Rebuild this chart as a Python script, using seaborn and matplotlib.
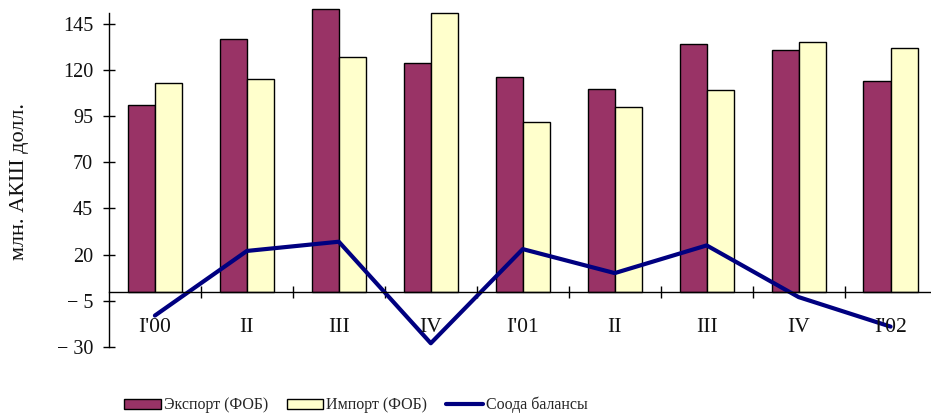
import numpy as np
import pandas as pd
import matplotlib
matplotlib.use("Agg")
import matplotlib.pyplot as plt
import matplotlib.transforms as mtransforms
from matplotlib.patches import Patch
from matplotlib.lines import Line2D
import seaborn as sns

# Quarterly trade data, million US dollars
periods = ["I'00", "II", "III", "IV", "I'01", "II", "III", "IV", "I'02"]
export_fob = [101, 137, 153, 124, 116, 110, 134, 131, 114]
import_fob = [113, 115, 127, 151, 92, 100, 109, 135, 132]
trade_balance = [-13, 22, 27, -28, 23, 10, 25, -3, -19]

y_ticks = [-30, -5, 20, 45, 70, 95, 120, 145]
y_tick_labels = ["\u2212 30", "\u2212 5", "20", "45", "70", "95", "120", "145"]

export_name = "Экспорт (ФОБ)"
import_name = "Импорт (ФОБ)"
balance_name = "Соода балансы"

export_color = "#993366"
import_color = "#FFFFCC"
balance_color = "#000080"

sns.set_style("white")
plt.rcParams["font.family"] = ["Liberation Serif", "DejaVu Serif"]

idx = np.arange(len(periods))
bars = pd.DataFrame({
    "pos": np.concatenate([idx, idx]),
    "value": export_fob + import_fob,
    "series": [export_name] * len(idx) + [import_name] * len(idx),
})
line = pd.DataFrame({"pos": idx, "value": trade_balance})

fig = plt.figure(figsize=(9.31, 4.18), dpi=100)
ax = fig.add_axes([0.117, 0.170, 0.889, 0.817])

sns.barplot(data=bars, x="pos", y="value", hue="series",
            palette={export_name: export_color, import_name: import_color},
            saturation=1, edgecolor="black", linewidth=1.0, width=0.59,
            gap=0, errorbar=None, ax=ax, legend=False)
sns.lineplot(data=line, x="pos", y="value", color=balance_color,
             linewidth=3.0, ax=ax, legend=False)

ax.set_xlim(-0.5, len(periods) - 0.5)
ax.set_ylim(-30, 155)

# Axes: category axis crosses at zero, value axis spans the tick range
for s in ["top", "right"]:
    ax.spines[s].set_visible(False)
ax.spines["bottom"].set_position(("data", 0))
ax.spines["left"].set_bounds(-30, 151)
for s in ["bottom", "left"]:
    ax.spines[s].set_linewidth(1.0)
    ax.spines[s].set_color("black")

ax.set_xticks(np.arange(0.5, len(periods) - 1, 1.0))
ax.set_xticklabels([])
ax.set_yticks(y_ticks)
ax.set_yticklabels(y_tick_labels)
ax.tick_params(axis="both", direction="inout", length=8.6, width=1.0,
               color="black", left=True, bottom=True,
               labelsize=14.5, labelcolor="#111111")
ax.tick_params(axis="y", pad=7)
ax.set_xlabel("")
ax.set_ylabel("")

# Category labels below the plot area
trans = mtransforms.blended_transform_factory(ax.transData, ax.transAxes)
for i, lab in enumerate(periods):
    ax.text(i, 0.058, lab, transform=trans, ha="center", va="center",
            fontsize=15.5, color="#111111")

fig.text(20 / 931, 0.565, "млн. АКШ долл.", rotation=90, ha="center",
         va="center", fontsize=16, color="#111111")

# Legend
handles = [
    Patch(facecolor=export_color, edgecolor="black", linewidth=1.0),
    Patch(facecolor=import_color, edgecolor="black", linewidth=1.0),
    Line2D([0], [0], color=balance_color, linewidth=3.0),
]
fig.legend(handles, [export_name, import_name, balance_name],
           loc="center left", bbox_to_anchor=(124 / 931, 1 - 405 / 418),
           ncol=3, frameon=False, fontsize=11.5, handlelength=2.3,
           handleheight=0.6, handletextpad=0.2, columnspacing=1.15,
           borderpad=0, borderaxespad=0)

fig.savefig("out.png", dpi=100)
